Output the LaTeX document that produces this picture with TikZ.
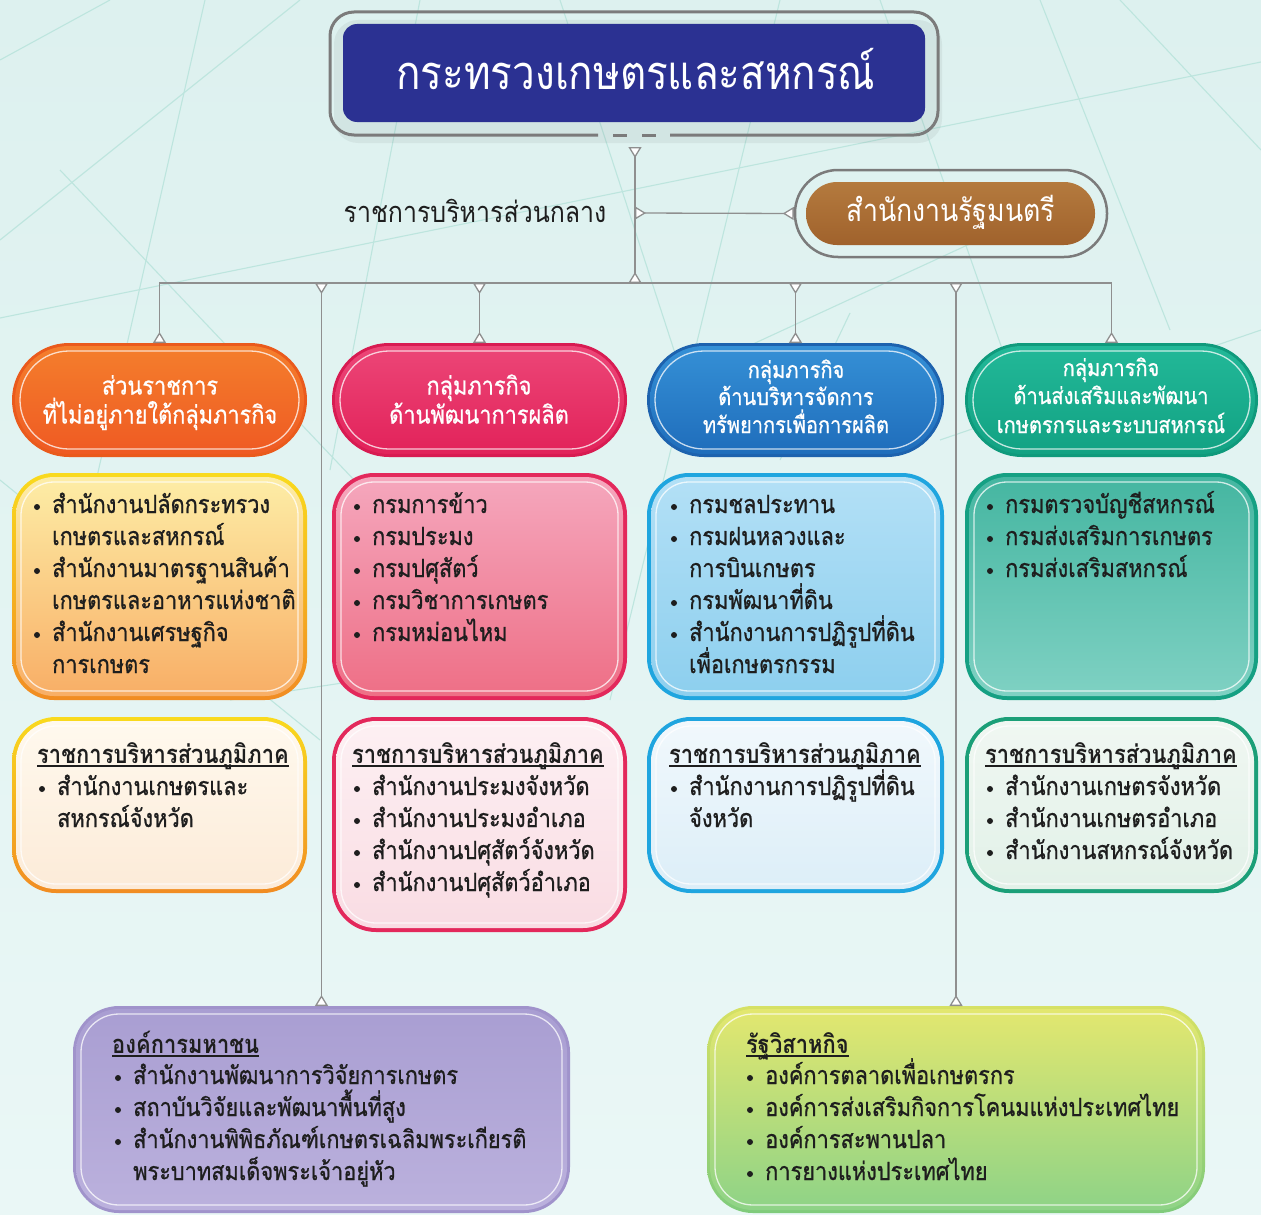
\documentclass[tikz,border=0pt]{standalone}
\usepackage{fontspec}
\usetikzlibrary{arrows.meta,fit}
\setmainfont[Script=Thai]{Loma}
\newfontfamily\thai[Script=Thai,FakeStretch=0.86]{Loma}
\newfontfamily\thaim[Script=Thai,FakeStretch=0.87,FakeBold=0.8]{Loma}
\definecolor{bgtop}{HTML}{DDF1EF}
\definecolor{bgbot}{HTML}{EAF7F6}
\definecolor{bgline}{HTML}{BDE5DE}
\definecolor{cgray}{HTML}{8F8F8F}
\definecolor{ogray}{HTML}{7B7B7B}
\definecolor{txt}{HTML}{1E1E1E}
\definecolor{navy}{HTML}{2B3192}
\definecolor{brownA}{HTML}{B47A3E}
\definecolor{brownB}{HTML}{A0622C}
\definecolor{orRim}{HTML}{EA5A1C}
\definecolor{orA}{HTML}{F47E2C}
\definecolor{orB}{HTML}{EF5A23}
\definecolor{pkRim}{HTML}{D81B52}
\definecolor{pkA}{HTML}{EC4677}
\definecolor{pkB}{HTML}{E2225A}
\definecolor{blRim}{HTML}{1D62AE}
\definecolor{blA}{HTML}{3590D6}
\definecolor{blB}{HTML}{1F6DBB}
\definecolor{teRim}{HTML}{0F9A7C}
\definecolor{teA}{HTML}{22B898}
\definecolor{teB}{HTML}{12A283}
\definecolor{odBA}{HTML}{F9DA1E}
\definecolor{odBB}{HTML}{F18C22}
\definecolor{odFA}{HTML}{FDEDA6}
\definecolor{odFB}{HTML}{F8AE66}
\definecolor{pdB}{HTML}{E3285B}
\definecolor{pdFA}{HTML}{F5A7BD}
\definecolor{pdFB}{HTML}{EE6F86}
\definecolor{bdB}{HTML}{1FA5DF}
\definecolor{bdFA}{HTML}{B3E0F6}
\definecolor{bdFB}{HTML}{8DCFEE}
\definecolor{tdB}{HTML}{15A083}
\definecolor{tdFA}{HTML}{45B6A1}
\definecolor{tdFB}{HTML}{7FD1C3}
\definecolor{orFA}{HTML}{FFF9EE}
\definecolor{orFB}{HTML}{FCEBD8}
\definecolor{prFA}{HTML}{FDF0F3}
\definecolor{prFB}{HTML}{F9DCE3}
\definecolor{brFA}{HTML}{F1F8FC}
\definecolor{brFB}{HTML}{DCEEF8}
\definecolor{trB}{HTML}{1B9F78}
\definecolor{trFA}{HTML}{F0F7F2}
\definecolor{trFB}{HTML}{E2F1E8}
\definecolor{puB}{HTML}{A093CB}
\definecolor{puFA}{HTML}{A99ED2}
\definecolor{puFB}{HTML}{BBB1DD}
\definecolor{grBA}{HTML}{D6E164}
\definecolor{grBB}{HTML}{7FCB7B}
\definecolor{grFA}{HTML}{E3E76F}
\definecolor{grFB}{HTML}{8ED387}
\tikzset{
  conn/.style={draw=cgray,line width=1.3pt,{Triangle[reversed,width=13pt,length=11pt,fill=white]}-{Triangle[reversed,width=13pt,length=11pt,fill=white]}},
  bgl/.style={draw=bgline,line width=1.1pt},
  body/.style={font=\thaim\fontsize{25}{29}\selectfont,text=txt,inner sep=0pt},
  bodyb/.style={font=\thai\bfseries\fontsize{25.5}{29}\selectfont,text=txt,inner sep=0pt},
  htxt/.style={font=\thaim\fontsize{25}{29}\selectfont,text=white,inner sep=0pt},
  htxts/.style={font=\thaim\fontsize{23}{27}\selectfont,text=white,inner sep=0pt},
}
% name, x1, y1, x2, y2, radius, border style, fill style, inset
\newcommand\rbox[9]{%
  \node[fit={(#2,#3) (#4,#5)},inner sep=0pt,outer sep=0pt] (#1) {};
  \path[#7,rounded corners=#6pt] (#1.south west) rectangle (#1.north east);
  \path[#8,rounded corners=#6pt-#9pt] ([shift={(#9pt,#9pt)}]#1.south west) rectangle ([shift={(-#9pt,-#9pt)}]#1.north east);
  \draw[white,opacity=.75,line width=1.3pt,rounded corners=#6pt-#9pt-5pt] ([shift={(#9pt+5pt,#9pt+5pt)}]#1.south west) rectangle ([shift={(-#9pt-5pt,-#9pt-5pt)}]#1.north east);
}
\newcommand\itm[4]{\fill[txt] (#2-15,#3) circle (3pt); \node[body,anchor=base west] (#1) at (#2,#3+6) {#4};}
\newcommand\cont[4]{\node[body,anchor=base west] (#1) at (#2,#3+6) {#4};}
\newcommand\hdr[4]{\node[bodyb,anchor=base west] (#1) at (#2,#3+6) {#4};
  \draw[txt,line width=1.3pt] ([yshift=-3pt]#1.base west) -- ([yshift=-3pt]#1.base east);}
\newcommand\ctr[4]{\node[htxt,anchor=base] (#1) at (#2,#3+6.5) {#4};}
\newcommand\ctrs[4]{\node[htxts,anchor=base] (#1) at (#2,#3+6) {#4};}
\begin{document}
\begin{tikzpicture}[x=1pt,y=-1pt]
\useasboundingbox (0,0) rectangle (1261,1215);
\shade[top color=bgtop,bottom color=bgbot] (0,0) rectangle (1261,1215);
% background lines
\draw[bgl] (0,318) -- (1261,62);
\draw[bgl] (205,0) -- (60,640);
\draw[bgl] (60,170) -- (430,560);
\draw[bgl] (420,0) -- (330,470);
\draw[bgl] (560,0) -- (700,430);
\draw[bgl] (780,0) -- (610,700);
\draw[bgl] (880,0) -- (1020,400);
\draw[bgl] (1000,230) -- (740,350);
\draw[bgl] (0,480) -- (320,740);
\draw[bgl] (1261,330) -- (940,440);
\draw[bgl] (1120,0) -- (1261,150);
\draw[bgl] (0,60) -- (110,0);
\draw[bgl] (230,700) -- (560,650);
\draw[bgl] (850,313) -- (780,460);
\draw[bgl] (1040,0) -- (1170,330);
\draw[bgl] (300,0) -- (0,240);
% title box
\fill[black,opacity=.05,rounded corners=24pt] (334,20) rectangle (942,143);
\draw[ogray,line width=3pt,rounded corners=24pt] (598,135) -- (330,135) -- (330,12) -- (938,12) -- (938,135) -- (670,135);
\draw[ogray,line width=3pt] (613,135) -- (627,135) (642,135) -- (656,135);
\node[fit={(343,24) (925,122)},inner sep=0pt,fill=navy,rounded corners=14pt] (ttlbox) {};
\node[font=\thai\fontsize{47}{52}\selectfont,text=white,anchor=base,inner sep=0pt] (ttl) at (636,89) {กระทรวงเกษตรและสหกรณ์};
% central office
\node[fit={(795,170) (1107,257)},inner sep=0pt,draw=ogray,line width=2.5pt,rounded corners=43pt] (brownO) {};
\node[fit={(806,182) (1095,245)},inner sep=0pt,top color=brownA,bottom color=brownB,rounded corners=31pt] (brownI) {};
\node[font=\thai\fontsize{31}{34}\selectfont,text=white,anchor=base,inner sep=0pt] (rmt) at (951,221) {สำนักงานรัฐมนตรี};
\node[font=\thai\fontsize{29}{32}\selectfont,text=txt,anchor=base,inner sep=0pt] (central) at (475,222) {ราชการบริหารส่วนกลาง};
% header pills
\rbox{hOr}{12}{343}{307}{457}{57}{fill=orRim}{top color=orA,bottom color=orB}{3}
\rbox{hPk}{332}{343}{627}{457}{57}{fill=pkRim}{top color=pkA,bottom color=pkB}{3}
\rbox{hBl}{647}{343}{944}{457}{57}{fill=blRim}{top color=blA,bottom color=blB}{3}
\rbox{hTe}{965}{343}{1258}{457}{57}{fill=teRim}{top color=teA,bottom color=teB}{3}
\ctr{h1a}{160}{388}{ส่วนราชการ}
\ctr{h1b}{160}{417}{ที่ไม่อยู่ภายใต้กลุ่มภารกิจ}
\ctr{h2a}{479}{388}{กลุ่มภารกิจ}
\ctr{h2b}{479}{417}{ด้านพัฒนาการผลิต}
\ctrs{h3a}{796}{372}{กลุ่มภารกิจ}
\ctrs{h3b}{796}{399}{ด้านบริหารจัดการ}
\ctrs{h3c}{796}{427}{ทรัพยากรเพื่อการผลิต}
\ctrs{h4a}{1111}{370}{กลุ่มภารกิจ}
\ctrs{h4b}{1111}{398}{ด้านส่งเสริมและพัฒนา}
\ctrs{h4c}{1111}{427}{เกษตรกรและระบบสหกรณ์}
% department boxes
\rbox{dOr}{12}{473}{307}{700}{42}{top color=odBA,bottom color=odBB}{top color=odFA,bottom color=odFB}{4}
\rbox{dPk}{332}{473}{627}{700}{42}{fill=pdB}{top color=pdFA,bottom color=pdFB}{4}
\rbox{dBl}{647}{473}{944}{700}{42}{fill=bdB}{top color=bdFA,bottom color=bdFB}{4}
\rbox{dTe}{965}{473}{1258}{700}{42}{fill=tdB}{top color=tdFA,bottom color=tdFB}{4}
\itm{d1a}{52}{507}{สำนักงานปลัดกระทรวง}
\cont{d1b}{52}{539}{เกษตรและสหกรณ์}
\itm{d1c}{52}{571}{สำนักงานมาตรฐานสินค้า}
\cont{d1d}{52}{603}{เกษตรและอาหารแห่งชาติ}
\itm{d1e}{52}{635}{สำนักงานเศรษฐกิจ}
\cont{d1f}{52}{667}{การเกษตร}
\itm{d2a}{372}{507}{กรมการข้าว}
\itm{d2b}{372}{539}{กรมประมง}
\itm{d2c}{372}{571}{กรมปศุสัตว์}
\itm{d2d}{372}{603}{กรมวิชาการเกษตร}
\itm{d2e}{372}{635}{กรมหม่อนไหม}
\itm{d3a}{689}{507}{กรมชลประทาน}
\itm{d3b}{689}{539}{กรมฝนหลวงและ}
\cont{d3c}{689}{571}{การบินเกษตร}
\itm{d3d}{689}{603}{กรมพัฒนาที่ดิน}
\itm{d3e}{689}{635}{สำนักงานการปฏิรูปที่ดิน}
\cont{d3f}{689}{667}{เพื่อเกษตรกรรม}
\itm{d4a}{1005}{507}{กรมตรวจบัญชีสหกรณ์}
\itm{d4b}{1005}{539}{กรมส่งเสริมการเกษตร}
\itm{d4c}{1005}{571}{กรมส่งเสริมสหกรณ์}
% regional boxes
\rbox{rOr}{12}{717}{307}{893}{44}{top color=odBA,bottom color=odBB}{top color=orFA,bottom color=orFB}{4}
\rbox{rPk}{332}{717}{627}{932}{44}{fill=pdB}{top color=prFA,bottom color=prFB}{4}
\rbox{rBl}{647}{717}{944}{893}{44}{fill=bdB}{top color=brFA,bottom color=brFB}{4}
\rbox{rTe}{965}{717}{1258}{893}{44}{fill=trB}{top color=trFA,bottom color=trFB}{4}
\hdr{r1h}{37}{757}{ราชการบริหารส่วนภูมิภาค}
\itm{r1a}{57}{789}{สำนักงานเกษตรและ}
\cont{r1b}{57}{821}{สหกรณ์จังหวัด}
\hdr{r2h}{352}{757}{ราชการบริหารส่วนภูมิภาค}
\itm{r2a}{372}{789}{สำนักงานประมงจังหวัด}
\itm{r2b}{372}{821}{สำนักงานประมงอำเภอ}
\itm{r2c}{372}{853}{สำนักงานปศุสัตว์จังหวัด}
\itm{r2d}{372}{885}{สำนักงานปศุสัตว์อำเภอ}
\hdr{r3h}{669}{757}{ราชการบริหารส่วนภูมิภาค}
\itm{r3a}{689}{789}{สำนักงานการปฏิรูปที่ดิน}
\cont{r3b}{689}{821}{จังหวัด}
\hdr{r4h}{985}{757}{ราชการบริหารส่วนภูมิภาค}
\itm{r4a}{1005}{789}{สำนักงานเกษตรจังหวัด}
\itm{r4b}{1005}{821}{สำนักงานเกษตรอำเภอ}
\itm{r4c}{1005}{853}{สำนักงานสหกรณ์จังหวัด}
% bottom boxes
\rbox{bPu}{73}{1006}{570}{1213}{46}{fill=puB}{top color=puFA,bottom color=puFB}{3}
\rbox{bGr}{707}{1006}{1205}{1213}{46}{top color=grBA,bottom color=grBB}{top color=grFA,bottom color=grFB}{3}
\hdr{p0}{112}{1047}{องค์การมหาชน}
\itm{p1}{133}{1078}{สำนักงานพัฒนาการวิจัยการเกษตร}
\itm{p2}{133}{1110}{สถาบันวิจัยและพัฒนาพื้นที่สูง}
\itm{p3}{133}{1142}{สำนักงานพิพิธภัณฑ์เกษตรเฉลิมพระเกียรติ}
\cont{p4}{133}{1174}{พระบาทสมเด็จพระเจ้าอยู่หัว}
\hdr{g0}{746}{1047}{รัฐวิสาหกิจ}
\itm{g1}{765}{1078}{องค์การตลาดเพื่อเกษตรกร}
\itm{g2}{765}{1110}{องค์การส่งเสริมกิจการโคนมแห่งประเทศไทย}
\itm{g3}{765}{1142}{องค์การสะพานปลา}
\itm{g4}{765}{1174}{การยางแห่งประเทศไทย}
% connectors
\coordinate (tc) at (635,147);
\coordinate (barC) at (635,283);
\coordinate (mid) at (635,213);
\draw[conn] (tc) -- (barC);
\draw[conn] (mid) -- (brownO.west);
\draw[conn] (hOr.north) |- (barC) -| (hTe.north);
\draw[conn] (hPk.north |- barC) -- (hPk.north);
\draw[conn] (hBl.north |- barC) -- (hBl.north);
\draw[conn] (bPu.north |- barC) -- (bPu.north);
\draw[conn] (bGr.north |- barC) -- (bGr.north);
\end{tikzpicture}
\end{document}
